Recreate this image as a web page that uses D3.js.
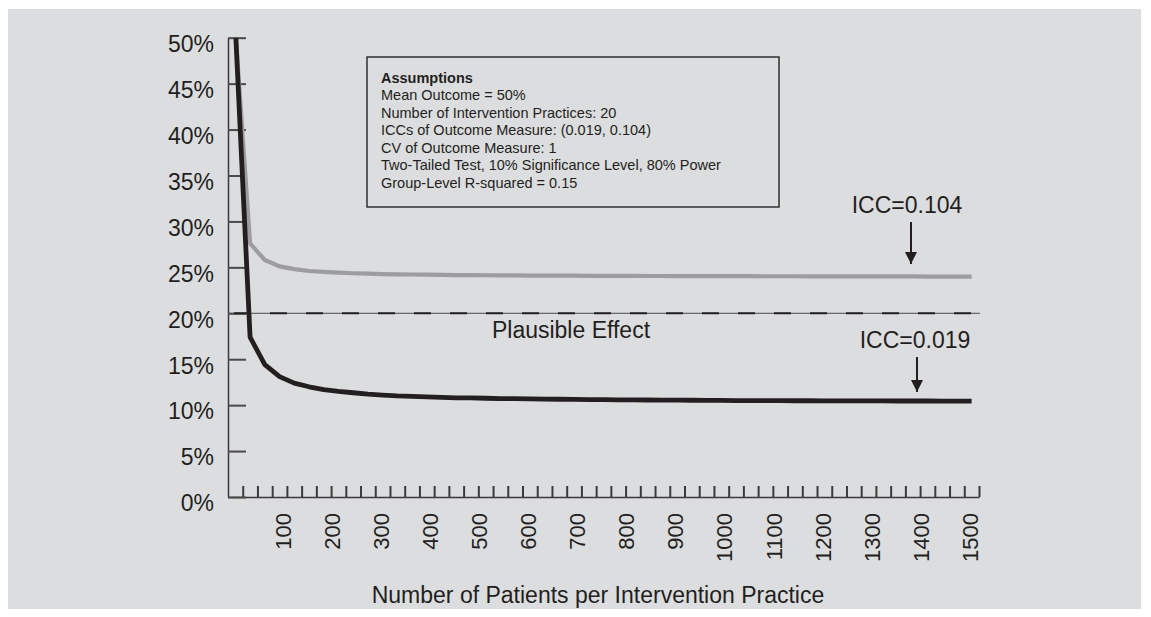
<!DOCTYPE html>
<html>
<head>
<meta charset="utf-8">
<script src="https://cdn.jsdelivr.net/npm/d3@7"></script>
<style>
  body { margin: 0; background: #fff; }
  svg text { font-family: 'Liberation Sans', Arial, Helvetica, sans-serif; fill: #231f20; }
</style>
</head>
<body>
<script>
// patients per practice (categories) and minimum detectable effect (%) per ICC
var patients = [1, 30, 60, 90, 120, 150, 180, 210, 240, 270, 300, 330, 360, 390, 420, 450, 480,
  510, 540, 570, 600, 630, 660, 690, 720, 750, 780, 810, 840, 870, 900, 930, 960, 990,
  1020, 1050, 1080, 1110, 1140, 1170, 1200, 1230, 1260, 1290, 1320, 1350, 1380, 1410, 1440, 1470, 1500];

var icc019 = [50, 17.4, 14.4, 13.1, 12.4, 12.0, 11.7, 11.5, 11.35, 11.2, 11.1, 11.0, 10.95, 10.9,
  10.85, 10.8, 10.78, 10.75, 10.72, 10.7, 10.68, 10.66, 10.64, 10.62, 10.6, 10.59, 10.58, 10.57,
  10.56, 10.55, 10.54, 10.53, 10.52, 10.51, 10.5, 10.5, 10.49, 10.49, 10.48, 10.48, 10.47, 10.47,
  10.46, 10.46, 10.46, 10.45, 10.45, 10.45, 10.44, 10.44, 10.44];

var icc104 = [50, 27.6, 25.8, 25.1, 24.8, 24.6, 24.5, 24.42, 24.36, 24.31, 24.27, 24.24, 24.22, 24.2,
  24.18, 24.16, 24.15, 24.14, 24.13, 24.12, 24.11, 24.1, 24.1, 24.09, 24.08, 24.08, 24.07, 24.07,
  24.06, 24.06, 24.05, 24.05, 24.05, 24.04, 24.04, 24.04, 24.03, 24.03, 24.03, 24.02, 24.02, 24.02,
  24.02, 24.01, 24.01, 24.01, 24.01, 24.0, 24.0, 24.0, 24.0];

var yTicks = [0, 5, 10, 15, 20, 25, 30, 35, 40, 45, 50];
var xLabels = [100, 200, 300, 400, 500, 600, 700, 800, 900, 1000, 1100, 1200, 1300, 1400, 1500];
var plausibleEffect = 20;

var assumptionsTitle = 'Assumptions';
var assumptions = [
  'Mean Outcome = 50%',
  'Number of Intervention Practices: 20',
  'ICCs of Outcome Measure: (0.019, 0.104)',
  'CV of Outcome Measure: 1',
  'Two-Tailed Test, 10% Significance Level, 80% Power',
  'Group-Level R-squared = 0.15'
];

var width = 1151, height = 617;

var svg = d3.select('body')
  .append('svg')
  .attr('width', width)
  .attr('height', height);

svg.append('rect')
  .attr('x', 8).attr('y', 9)
  .attr('width', 1133).attr('height', 600)
  .attr('fill', '#dcdddf');

var x = d3.scaleLinear().domain([-15, 1515]).range([228, 979]);
var y = d3.scaleLinear().domain([0, 50]).range([497, 37.7]);

// arrow marker
svg.append('defs').append('marker')
  .attr('id', 'arrow')
  .attr('viewBox', '0 0 10 10')
  .attr('refX', 10).attr('refY', 5)
  .attr('markerWidth', 12).attr('markerHeight', 12)
  .attr('markerUnits', 'userSpaceOnUse')
  .attr('orient', 'auto')
  .append('path')
  .attr('d', 'M0,0 L10,5 L0,10 Z')
  .attr('fill', '#231f20');

// x axis: minor ticks between categories
var xAxis = svg.append('g')
  .attr('transform', 'translate(0,497)')
  .call(d3.axisBottom(x)
    .tickValues(d3.range(15, 1516, 30))
    .tickSize(-11)
    .tickSizeOuter(0)
    .tickFormat(''));
xAxis.select('.domain').attr('stroke', '#3a3a3a').attr('stroke-width', 1.5);
xAxis.selectAll('.tick line').attr('stroke', '#3a3a3a').attr('stroke-width', 2);

svg.append('g')
  .selectAll('text')
  .data(xLabels)
  .enter()
  .append('text')
  .attr('transform', (d) => 'translate(' + (x(d) - 1.5) + ',513) rotate(-90)')
  .attr('text-anchor', 'end')
  .attr('dy', '0.35em')
  .style('font-size', '22px')
  .text((d) => d);

svg.append('text')
  .attr('x', 598)
  .attr('y', 603)
  .attr('text-anchor', 'middle')
  .style('font-size', '23px')
  .text('Number of Patients per Intervention Practice');

// y axis
var yAxis = svg.append('g')
  .attr('transform', 'translate(228,0)')
  .call(d3.axisLeft(y)
    .tickValues(yTicks)
    .tickSize(-18)
    .tickSizeOuter(0)
    .tickPadding(14)
    .tickFormat((d) => d + '%'));
yAxis.select('.domain').attr('stroke', '#3a3a3a').attr('stroke-width', 1.5);
yAxis.selectAll('.tick line').attr('stroke', '#4a4a4a').attr('stroke-width', 2);
yAxis.selectAll('.tick text')
  .attr('dy', '0.6em')
  .style('font-size', '23px')
  .style('font-family', "'Liberation Sans', Arial, sans-serif")
  .attr('fill', '#231f20');

// plausible effect reference line
svg.append('line')
  .attr('x1', 228).attr('x2', 980)
  .attr('y1', y(plausibleEffect)).attr('y2', y(plausibleEffect))
  .attr('stroke', '#4a4a4a')
  .attr('stroke-width', 1);
svg.append('line')
  .attr('x1', 228).attr('x2', 980)
  .attr('y1', y(plausibleEffect)).attr('y2', y(plausibleEffect))
  .attr('stroke', '#231f20')
  .attr('stroke-width', 2)
  .attr('stroke-dasharray', '17,19')
  .attr('stroke-dashoffset', -6);

svg.append('text')
  .attr('x', 571)
  .attr('y', 338)
  .attr('text-anchor', 'middle')
  .style('font-size', '23px')
  .text('Plausible Effect');

// curves
var line = d3.line()
  .x((d) => x(d[0]))
  .y((d) => y(d[1]));

svg.append('path')
  .datum(patients.map((p, i) => [p, icc104[i]]))
  .attr('d', line)
  .attr('fill', 'none')
  .attr('stroke', '#9d9d9f')
  .attr('stroke-width', 4.2)
  .attr('stroke-linejoin', 'round');

svg.append('path')
  .datum(patients.map((p, i) => [p, icc019[i]]))
  .attr('d', line)
  .attr('fill', 'none')
  .attr('stroke', '#231f20')
  .attr('stroke-width', 4.8)
  .attr('stroke-linejoin', 'round');

// annotations
svg.append('text')
  .attr('x', 907).attr('y', 212.5)
  .attr('text-anchor', 'middle')
  .style('font-size', '23px')
  .text('ICC=0.104');
svg.append('line')
  .attr('x1', 911).attr('x2', 911)
  .attr('y1', 222).attr('y2', 264)
  .attr('stroke', '#231f20').attr('stroke-width', 2)
  .attr('marker-end', 'url(#arrow)');

svg.append('text')
  .attr('x', 915).attr('y', 348)
  .attr('text-anchor', 'middle')
  .style('font-size', '23px')
  .text('ICC=0.019');
svg.append('line')
  .attr('x1', 917).attr('x2', 917)
  .attr('y1', 357).attr('y2', 392)
  .attr('stroke', '#231f20').attr('stroke-width', 2)
  .attr('marker-end', 'url(#arrow)');

// assumptions box
var box = svg.append('g');
box.append('rect')
  .attr('x', 367).attr('y', 57)
  .attr('width', 412).attr('height', 150)
  .attr('fill', 'none')
  .attr('stroke', '#2e2e2e')
  .attr('stroke-width', 1.5);
box.append('text')
  .attr('x', 381).attr('y', 83)
  .style('font-size', '14.5px')
  .style('font-weight', 'bold')
  .text(assumptionsTitle);
box.selectAll('text.line')
  .data(assumptions)
  .enter()
  .append('text')
  .attr('class', 'line')
  .attr('x', 381)
  .attr('y', (d, i) => 100 + i * 17.6)
  .style('font-size', '14.5px')
  .text((d) => d);
</script>
</body>
</html>
